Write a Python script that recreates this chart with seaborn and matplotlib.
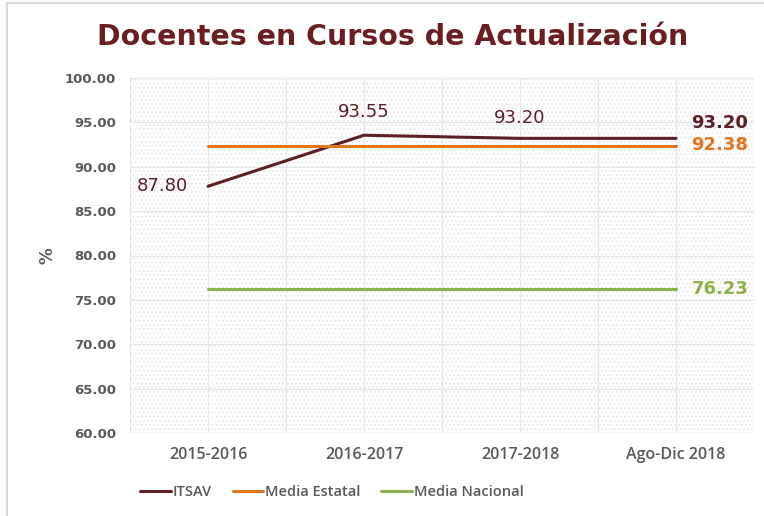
import matplotlib
matplotlib.use("Agg")
import matplotlib.pyplot as plt
import seaborn as sns
import pandas as pd
from matplotlib.patches import Rectangle
from matplotlib.lines import Line2D

periods = ["2015-2016", "2016-2017", "2017-2018", "Ago-Dic 2018"]
itsav = [87.80, 93.55, 93.20, 93.20]
media_estatal = [92.38, 92.38, 92.38, 92.38]
media_nacional = [76.23, 76.23, 76.23, 76.23]
series_names = ["ITSAV", "Media Estatal", "Media Nacional"]
colors = ["#5b1f24", "#e2761f", "#8cb24b"]

sns.set_theme(style="white")
plt.rcParams["font.family"] = ["DejaVu Sans"]

rows = []
for name, vals in zip(series_names, [itsav, media_estatal, media_nacional]):
    for i, (p, v) in enumerate(zip(periods, vals)):
        rows.append({"x": i, "periodo": p, "valor": v, "serie": name})
df = pd.DataFrame(rows)

fig = plt.figure(figsize=(7.64, 5.16), dpi=100)
ax = fig.add_axes([130 / 764, 1 - 433 / 516, 624 / 764, 355 / 516])

# dotted background
ax.add_patch(Rectangle((-0.5, 60), 4, 40, facecolor="white", edgecolor="#ececec",
                       hatch="....", linewidth=0, zorder=0))
for y in range(60, 101, 5):
    ax.axhline(y, color="#e6e6e6", lw=0.8, zorder=0.5)
for xv in [-0.5, 0, 0.5, 1, 1.5, 2, 2.5, 3, 3.5]:
    ax.axvline(xv, color="#e6e6e6", lw=0.8, zorder=0.5)

sns.lineplot(data=df, x="x", y="valor", hue="serie", palette=colors,
             hue_order=series_names, linewidth=2.2, ax=ax, legend=False, zorder=3)

cond = ["Liberation Sans Narrow", "Open Sans", "DejaVu Sans"]
ax.set_xlim(-0.5, 3.5)
ax.set_ylim(60, 100)
ax.set_yticks(range(60, 101, 5))
ax.set_yticklabels([f"{v:.2f}" for v in range(60, 101, 5)], fontsize=9.5,
                   fontweight="bold", color="#595959")
ax.set_xticks(range(len(periods)))
ax.set_xticklabels(periods, fontsize=11.5, fontweight="semibold", color="#595959",
                   family=cond)
ax.tick_params(axis="y", length=0, pad=10)
ax.tick_params(axis="x", length=0, pad=10)
ax.set_xlabel("")
ax.set_ylabel("%", fontsize=12, fontweight="bold", color="#595959", labelpad=6)
for s in ax.spines.values():
    s.set_visible(False)

# data labels
ax.text(-0.13, itsav[0], f"{itsav[0]:.2f}", ha="right", va="center",
        fontsize=13, color=colors[0])
ax.text(1, itsav[1] + 2.6, f"{itsav[1]:.2f}", ha="center", va="center",
        fontsize=13, color=colors[0])
ax.text(2, itsav[2] + 2.3, f"{itsav[2]:.2f}", ha="center", va="center",
        fontsize=13, color=colors[0])
ax.text(3.1, itsav[3] + 1.75, f"{itsav[3]:.2f}", ha="left", va="center",
        fontsize=13, fontweight="bold", color=colors[0])
ax.text(3.1, media_estatal[3] + 0.05, f"{media_estatal[3]:.2f}", ha="left", va="center",
        fontsize=13, fontweight="bold", color=colors[1])
ax.text(3.1, media_nacional[3], f"{media_nacional[3]:.2f}", ha="left", va="center",
        fontsize=13, fontweight="bold", color=colors[2])

fig.text(393 / 764, 1 - 37 / 516, "Docentes en Cursos de Actualización",
         ha="center", va="center", fontsize=20.5, fontweight="bold", color="#6b1e22")

handles = [Line2D([0], [0], color=c, lw=2.2) for c in colors]
fig.legend(handles, series_names, loc="center", bbox_to_anchor=(332 / 764, 1 - 492 / 516),
           ncol=3, frameon=False, handlelength=2.1, handletextpad=0.15, columnspacing=1.4,
           prop={"family": cond, "size": 10.5, "weight": "semibold"}, labelcolor="#595959")

# outer frame (top and left edges)
fig.add_artist(Line2D([7 / 764, 7 / 764], [0, 1 - 3 / 516], transform=fig.transFigure,
                      color="#d9d9d9", lw=1.5))
fig.add_artist(Line2D([7 / 764, 1], [1 - 3 / 516, 1 - 3 / 516], transform=fig.transFigure,
                      color="#d9d9d9", lw=1.5))

fig.savefig("out.png", dpi=100)
